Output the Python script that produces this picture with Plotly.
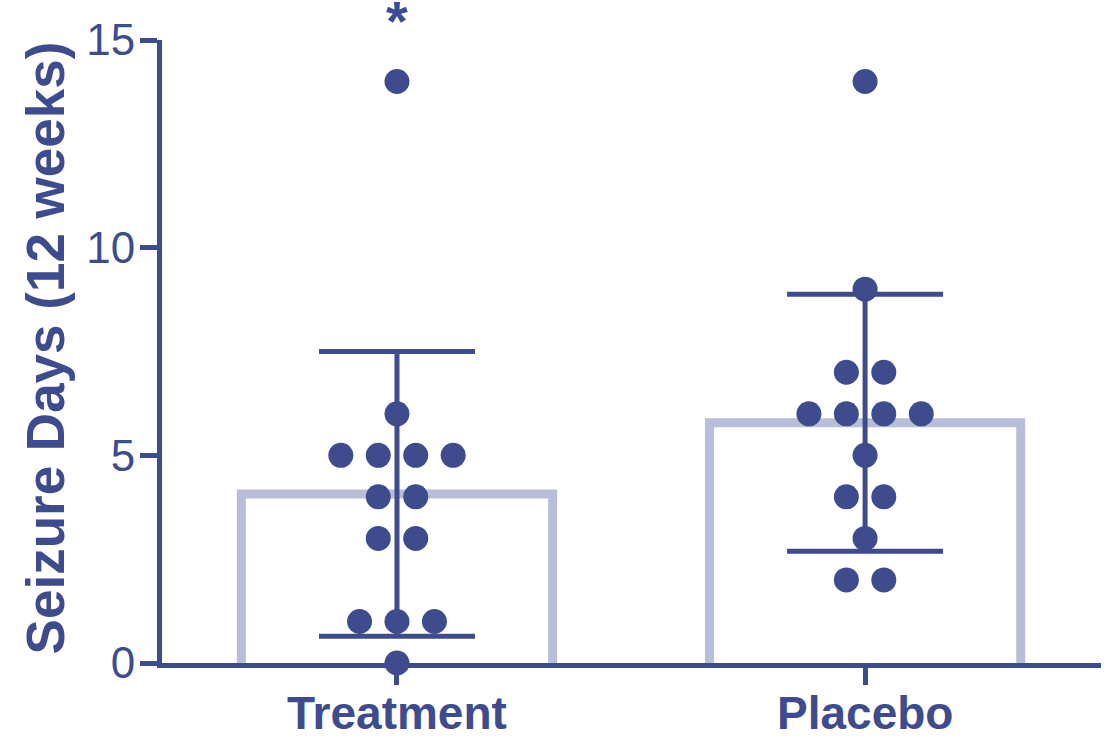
import numpy as np
import plotly.graph_objects as go

# Seizure days over 12 weeks, one value per participant
groups = ["Treatment", "Placebo"]
treatment_days = [14, 6, 5, 5, 5, 5, 4, 4, 3, 3, 1, 1, 1, 0]
placebo_days = [14, 9, 7, 7, 6, 6, 6, 6, 5, 4, 4, 3, 2, 2]
group_values = [treatment_days, placebo_days]
y_ticks = [0, 5, 10, 15]
significance = ["*", ""]

NAVY = "#3e4b8d"
LAVENDER = "#b8bdd8"
FONT = "Liberation Sans, Arial, sans-serif"
BAR_WIDTH = 0.665
DOT_STEP = 0.08


def swarm_offsets(values, step):
    """Spread points that share a value symmetrically around the group centre."""
    counts = {}
    for v in values:
        counts[v] = counts.get(v, 0) + 1
    seen = {}
    offsets = []
    for v in values:
        n = counts[v]
        k = seen.get(v, 0)
        seen[v] = k + 1
        offsets.append((k - (n - 1) / 2) * step)
    return offsets


fig = go.Figure()

for i, vals in enumerate(group_values):
    arr = np.asarray(vals, dtype=float)
    mean = arr.mean()
    sd = arr.std(ddof=1)
    half = BAR_WIDTH / 2

    # open bar outline (no bottom edge), resting on the axis
    fig.add_trace(go.Scatter(
        x=[i - half, i - half, i + half, i + half],
        y=[0, mean, mean, 0],
        mode="lines",
        line=dict(color=LAVENDER, width=9),
        hoverinfo="skip",
        showlegend=False,
    ))

    # individual participants
    fig.add_trace(go.Scatter(
        x=[i + o for o in swarm_offsets(vals, DOT_STEP)],
        y=vals,
        mode="markers",
        marker=dict(color=NAVY, size=25, line=dict(width=0)),
        cliponaxis=False,
        showlegend=False,
    ))

    # mean ± SD
    fig.add_trace(go.Scatter(
        x=[i],
        y=[mean],
        mode="markers",
        marker=dict(color=NAVY, size=1),
        error_y=dict(type="data", array=[sd], color=NAVY, thickness=5, width=78),
        cliponaxis=False,
        showlegend=False,
    ))

    # group name under its tick
    fig.add_annotation(
        x=i, y=0, xref="x", yref="paper",
        text=f"<b>{groups[i]}</b>", showarrow=False,
        yanchor="top", yshift=-23, borderpad=0,
        font=dict(family=FONT, size=46, color=NAVY),
    )

for i, mark in enumerate(significance):
    if mark:
        fig.add_annotation(
            x=i, y=1.0, xref="x", yref="paper",
            text=f"<b>{mark}</b>", showarrow=False,
            yanchor="top", yshift=52, borderpad=0,
            font=dict(family=FONT, size=56, color=NAVY),
        )

fig.add_annotation(
    x=-0.1246, y=0.505, xref="paper", yref="paper",
    text="<b>Seizure Days (12 weeks)</b>", textangle=-90,
    showarrow=False, xanchor="center", yanchor="middle",
    font=dict(family=FONT, size=53, color=NAVY),
)

fig.update_layout(
    width=1114, height=738,
    margin=dict(l=162, r=13, t=40, b=75),
    paper_bgcolor="white", plot_bgcolor="white",
    font=dict(family=FONT, color=NAVY),
    xaxis=dict(
        range=[-0.502, 1.504],
        tickvals=list(range(len(groups))),
        showticklabels=False,
        showline=True, linewidth=5, linecolor=NAVY,
        ticks="outside", ticklen=17, tickwidth=5, tickcolor=NAVY,
        showgrid=False, zeroline=False, fixedrange=True, automargin=False,
    ),
    yaxis=dict(
        range=[0, 15],
        tickvals=y_ticks,
        ticktext=[str(t) for t in y_ticks],
        tickfont=dict(family=FONT, size=44, color=NAVY),
        ticklabelstandoff=-4,
        showline=True, linewidth=5, linecolor=NAVY,
        ticks="outside", ticklen=17, tickwidth=5, tickcolor=NAVY,
        showgrid=False, zeroline=False, fixedrange=True, automargin=False,
    ),
)

fig.write_html("out.html")
